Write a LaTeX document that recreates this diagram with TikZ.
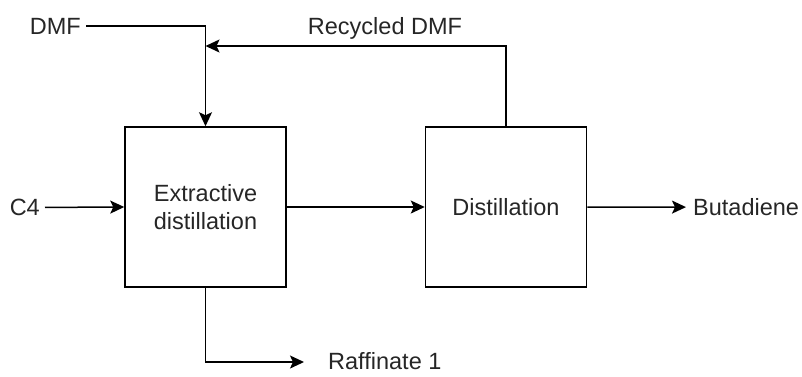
\documentclass[tikz,border=0pt]{standalone}
\usepackage{fontspec}
\setmainfont{Liberation Sans}
\usetikzlibrary{arrows.meta}
\newcommand\flowfont{\fontsize{23.5}{28}\selectfont}
\begin{document}
\begin{tikzpicture}[x=1pt,y=-1pt,
  flow/.style={line width=1.5pt, -{Stealth[length=14pt,width=13pt,inset=3pt]}},
  unit/.style={draw, line width=1.5pt, minimum width=161pt, minimum height=160pt,
    inner sep=0pt, align=center, font=\flowfont, text=black!85},
  lbl/.style={inner sep=0pt, font=\flowfont, text=black!85}]
\useasboundingbox (0,0) rectangle (802,376);

% process units
\node[unit] (ext) at (205.5,207) {Extractive\\distillation};
\node[unit] (dist) at (506,207) {Distillation};

% stream labels
\node[lbl, anchor=base east] (dmf) at (81,34) {DMF};
\node[lbl, anchor=base] (rec) at (385,34) {Recycled DMF};
\node[lbl, anchor=base east] (c4) at (40,215.5) {C4};
\node[lbl, anchor=base west] (but) at (693,215.5) {Butadiene};
\node[lbl, anchor=base west] (raf) at (328,369.5) {Raffinate 1};

\coordinate (merge) at (205.5,46);
\coordinate (rafend) at (304,362);

% streams
\draw[flow] ([xshift=5pt]dmf.east) -| (ext.north);
\draw[flow] (dist.north) |- (merge);
\draw[flow] ([xshift=5pt]c4.east) -- (ext.west);
\draw[flow] (ext) -- (dist);
\draw[flow] (dist.east) -- ([xshift=-7pt]but.west);
\draw[flow] (ext.south) |- (rafend);
\end{tikzpicture}
\end{document}
